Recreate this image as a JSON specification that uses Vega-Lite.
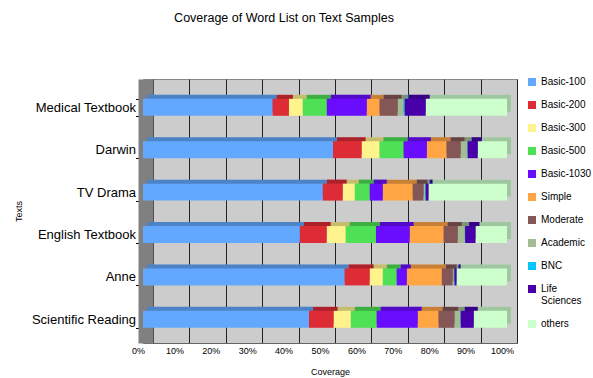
{
  "$schema": "https://vega.github.io/schema/vega-lite/v6.json",
  "width": 374,
  "height": 264,
  "autosize": {"type": "none"},
  "padding": {"left": 143, "top": 79, "right": 76, "bottom": 35},
  "background": "white",
  "config": {"font": "Liberation Sans", "view": {"fill": "#cccccc", "stroke": "#888888"}},
  "title": {"text": "Coverage of Word List on Text Samples", "fontSize": 12.5, "fontWeight": "normal", "anchor": "middle", "dx": -46, "offset": 49, "color": "black"},
  "data": {"values": [
    {"t": "Medical Textbook", "c": "Basic-100", "i": 1, "v": 35.6},
    {"t": "Medical Textbook", "c": "Basic-200", "i": 2, "v": 4.5},
    {"t": "Medical Textbook", "c": "Basic-300", "i": 3, "v": 3.8},
    {"t": "Medical Textbook", "c": "Basic-500", "i": 4, "v": 6.6},
    {"t": "Medical Textbook", "c": "Basic-1030", "i": 5, "v": 11.0},
    {"t": "Medical Textbook", "c": "Simple", "i": 6, "v": 3.5},
    {"t": "Medical Textbook", "c": "Moderate", "i": 7, "v": 5.0},
    {"t": "Medical Textbook", "c": "Academic", "i": 8, "v": 1.6},
    {"t": "Medical Textbook", "c": "BNC", "i": 9, "v": 0.3},
    {"t": "Medical Textbook", "c": "Life Sciences", "i": 10, "v": 5.8},
    {"t": "Medical Textbook", "c": "others", "i": 11, "v": 22.3},
    {"t": "Darwin", "c": "Basic-100", "i": 1, "v": 52.2},
    {"t": "Darwin", "c": "Basic-200", "i": 2, "v": 7.9},
    {"t": "Darwin", "c": "Basic-300", "i": 3, "v": 4.9},
    {"t": "Darwin", "c": "Basic-500", "i": 4, "v": 6.6},
    {"t": "Darwin", "c": "Basic-1030", "i": 5, "v": 6.4},
    {"t": "Darwin", "c": "Simple", "i": 6, "v": 5.4},
    {"t": "Darwin", "c": "Moderate", "i": 7, "v": 3.9},
    {"t": "Darwin", "c": "Academic", "i": 8, "v": 1.8},
    {"t": "Darwin", "c": "BNC", "i": 9, "v": 0.1},
    {"t": "Darwin", "c": "Life Sciences", "i": 10, "v": 2.8},
    {"t": "Darwin", "c": "others", "i": 11, "v": 8.0},
    {"t": "TV Drama", "c": "Basic-100", "i": 1, "v": 49.4},
    {"t": "TV Drama", "c": "Basic-200", "i": 2, "v": 5.5},
    {"t": "TV Drama", "c": "Basic-300", "i": 3, "v": 3.3},
    {"t": "TV Drama", "c": "Basic-500", "i": 4, "v": 4.1},
    {"t": "TV Drama", "c": "Basic-1030", "i": 5, "v": 3.6},
    {"t": "TV Drama", "c": "Simple", "i": 6, "v": 8.2},
    {"t": "TV Drama", "c": "Moderate", "i": 7, "v": 3.0},
    {"t": "TV Drama", "c": "Academic", "i": 8, "v": 0.4},
    {"t": "TV Drama", "c": "BNC", "i": 9, "v": 0.2},
    {"t": "TV Drama", "c": "Life Sciences", "i": 10, "v": 0.8},
    {"t": "TV Drama", "c": "others", "i": 11, "v": 21.5},
    {"t": "English Textbook", "c": "Basic-100", "i": 1, "v": 43.1},
    {"t": "English Textbook", "c": "Basic-200", "i": 2, "v": 7.4},
    {"t": "English Textbook", "c": "Basic-300", "i": 3, "v": 5.2},
    {"t": "English Textbook", "c": "Basic-500", "i": 4, "v": 8.3},
    {"t": "English Textbook", "c": "Basic-1030", "i": 5, "v": 9.3},
    {"t": "English Textbook", "c": "Simple", "i": 6, "v": 9.3},
    {"t": "English Textbook", "c": "Moderate", "i": 7, "v": 3.9},
    {"t": "English Textbook", "c": "Academic", "i": 8, "v": 1.9},
    {"t": "English Textbook", "c": "BNC", "i": 9, "v": 0.1},
    {"t": "English Textbook", "c": "Life Sciences", "i": 10, "v": 2.9},
    {"t": "English Textbook", "c": "others", "i": 11, "v": 8.6},
    {"t": "Anne", "c": "Basic-100", "i": 1, "v": 55.4},
    {"t": "Anne", "c": "Basic-200", "i": 2, "v": 6.9},
    {"t": "Anne", "c": "Basic-300", "i": 3, "v": 3.6},
    {"t": "Anne", "c": "Basic-500", "i": 4, "v": 3.8},
    {"t": "Anne", "c": "Basic-1030", "i": 5, "v": 2.8},
    {"t": "Anne", "c": "Simple", "i": 6, "v": 9.6},
    {"t": "Anne", "c": "Moderate", "i": 7, "v": 3.0},
    {"t": "Anne", "c": "Academic", "i": 8, "v": 0.3},
    {"t": "Anne", "c": "BNC", "i": 9, "v": 0.2},
    {"t": "Anne", "c": "Life Sciences", "i": 10, "v": 0.6},
    {"t": "Anne", "c": "others", "i": 11, "v": 13.8},
    {"t": "Scientific Reading", "c": "Basic-100", "i": 1, "v": 45.6},
    {"t": "Scientific Reading", "c": "Basic-200", "i": 2, "v": 6.8},
    {"t": "Scientific Reading", "c": "Basic-300", "i": 3, "v": 4.7},
    {"t": "Scientific Reading", "c": "Basic-500", "i": 4, "v": 7.1},
    {"t": "Scientific Reading", "c": "Basic-1030", "i": 5, "v": 11.3},
    {"t": "Scientific Reading", "c": "Simple", "i": 6, "v": 5.7},
    {"t": "Scientific Reading", "c": "Moderate", "i": 7, "v": 4.4},
    {"t": "Scientific Reading", "c": "Academic", "i": 8, "v": 1.6},
    {"t": "Scientific Reading", "c": "BNC", "i": 9, "v": 0.1},
    {"t": "Scientific Reading", "c": "Life Sciences", "i": 10, "v": 3.6},
    {"t": "Scientific Reading", "c": "others", "i": 11, "v": 9.1}
  ]},
  "encoding": {
    "y": {
      "field": "t", "type": "nominal",
      "sort": ["Medical Textbook", "Darwin", "TV Drama", "English Textbook", "Anne", "Scientific Reading"],
      "scale": {"paddingInner": 0.6, "paddingOuter": 0.413, "align": 0.566},
      "axis": {"title": "Texts", "titleFontSize": 9, "titleFontWeight": "normal", "titleColor": "black", "titlePadding": 8,
               "labelFontSize": 13, "labelColor": "black", "domainColor": "#808080", "domainWidth": 15, "offset": -2.5,
               "tickBand": "extent", "tickSize": 10, "tickColor": "black", "labelPadding": 0, "grid": false}
    },
    "x": {
      "field": "v", "type": "quantitative", "stack": "zero",
      "scale": {"domain": [0, 102.75], "nice": false},
      "axis": {"title": "Coverage", "titleFontSize": 9, "titleFontWeight": "normal", "titleColor": "black", "titlePadding": 12,
               "values": [0, 10, 20, 30, 40, 50, 60, 70, 80, 90, 100], "labelExpr": "datum.value + '%'",
               "labelFontSize": 9, "labelColor": "black", "ticks": false, "labelPadding": 3, "labelFlush": false,
               "tickOffset": 10, "labelOffset": -15, "grid": true, "gridColor": "#222222", "gridOpacity": 1, "domainColor": "#666666"}
    },
    "order": {"field": "i", "type": "quantitative"}
  },
  "layer": [
    {
      "mark": {"type": "bar", "xOffset": 4, "x2Offset": 4, "yOffset": -4, "y2Offset": -4, "strokeWidth": 0},
      "encoding": {"color": {"field": "c", "type": "nominal",
        "scale": {"domain": ["Basic-100", "Basic-200", "Basic-300", "Basic-500", "Basic-1030", "Simple", "Moderate", "Academic", "BNC", "Life Sciences", "others"],
                  "range": ["#62a8ff", "#de2c36", "#fff38d", "#4fe155", "#6a0dff", "#ffa544", "#855656", "#a2bd94", "#00c5ff", "#4700aa", "#ccffcc"]},
        "legend": {"orient": "none", "legendX": 384, "legendY": -2, "title": null, "symbolType": "square", "symbolSize": 64,
                   "symbolStrokeWidth": 0, "labelFontSize": 10, "labelColor": "black", "labelOffset": 4, "rowPadding": 13,
                   "labelExpr": "datum.label == 'Life Sciences' ? ['Life', 'Sciences'] : datum.label"}}}
    },
    {
      "mark": {"type": "bar", "xOffset": 4, "x2Offset": 4, "yOffset": -4, "y2Offset": -4, "color": "black", "opacity": 0.22, "strokeWidth": 0},
      "encoding": {"detail": {"field": "c", "type": "nominal"}}
    },
    {
      "mark": {"type": "bar", "strokeWidth": 0},
      "encoding": {"color": {"field": "c", "type": "nominal"}}
    }
  ]
}
